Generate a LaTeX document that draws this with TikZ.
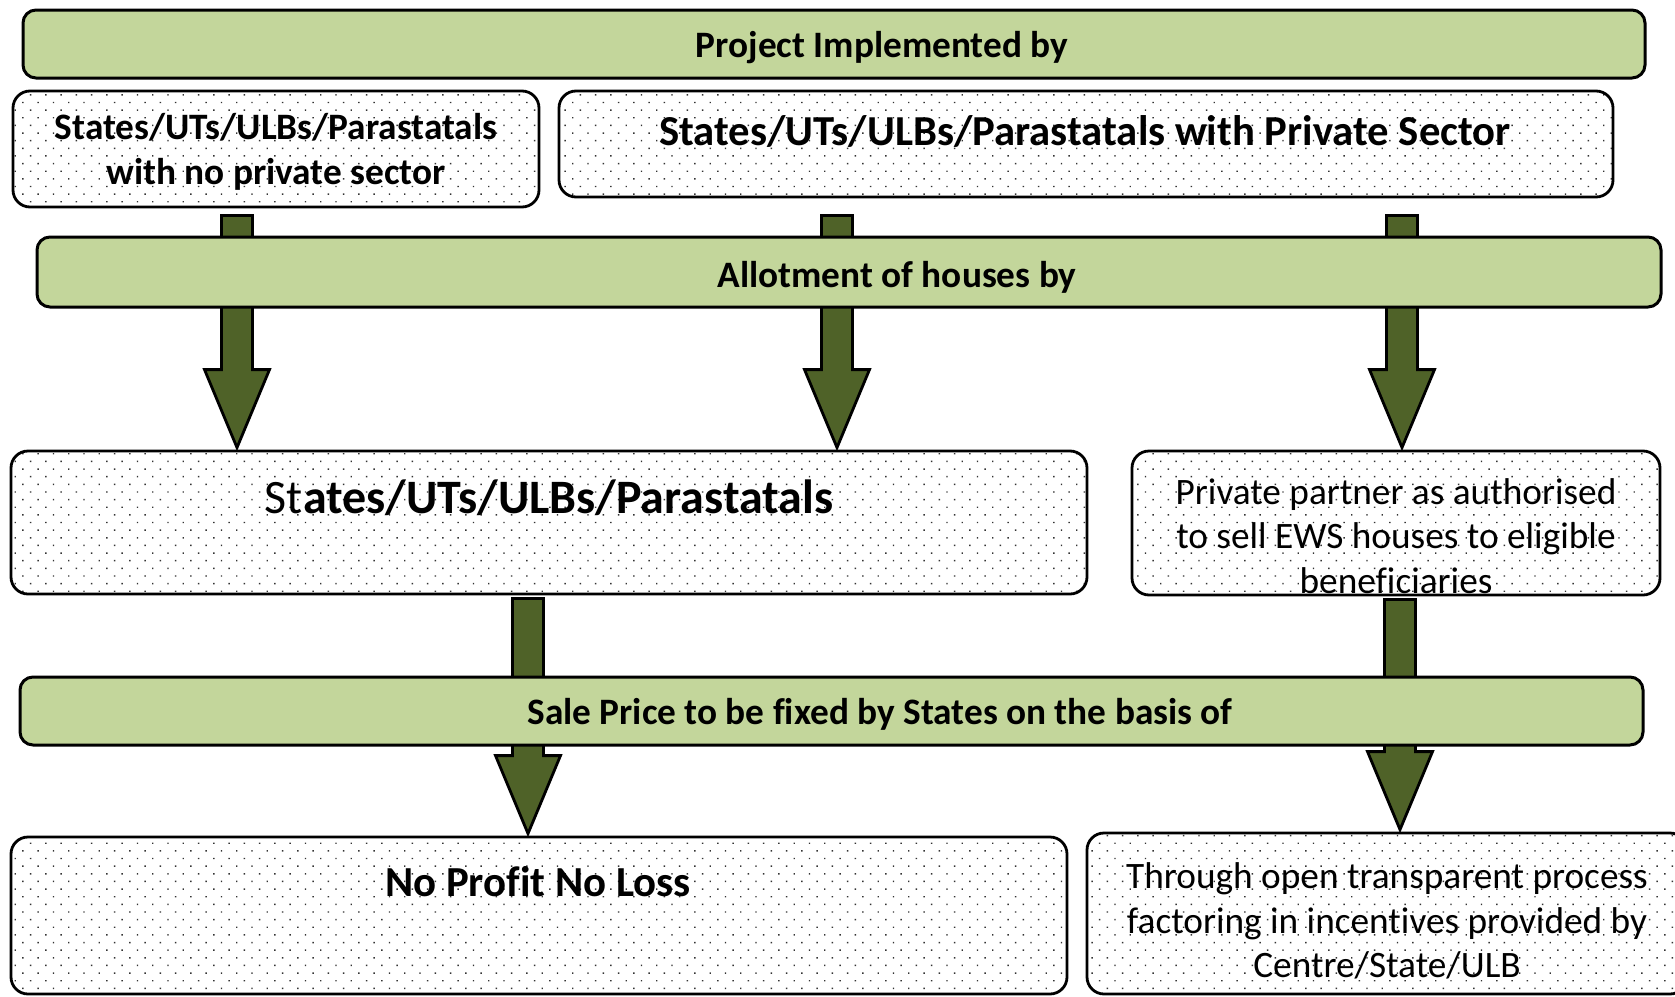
\documentclass[tikz,border=0pt]{standalone}
\usepackage{fontspec}
\setmainfont{Carlito}[Ligatures={NoCommon}]
\usetikzlibrary{patterns.meta,calc}
\definecolor{barfill}{HTML}{C3D69B}
\definecolor{arrowfill}{HTML}{4F6228}
\definecolor{dotgray}{HTML}{333333}
\newcommand\fsz[2]{\fontsize{#1}{#2}\selectfont}
% block arrow: #1 column x, #2 source node, #3 gap below source, #4 target node
\newcommand\blockarrow[4]{%
  \path[blockarrow] let \p1=(#1,0), \p2=(#2.south), \p3=(#4.north) in
    (\x1-15.5pt,\y2-#3pt) -- (\x1+15.5pt,\y2-#3pt) -- (\x1+15.5pt,\y3+80pt)
    -- (\x1+32.5pt,\y3+80pt) -- (\x1,\y3+2pt) -- (\x1-32.5pt,\y3+80pt)
    -- (\x1-15.5pt,\y3+80pt) -- cycle;}
\begin{document}
\begin{tikzpicture}[x=1pt,y=-1pt,
  bar/.style={draw=black, line width=3pt, fill=barfill, rounded corners=13pt, inner sep=0pt},
  dotbox/.style={draw=black, line width=2.8pt, rounded corners=17pt, inner sep=0pt,
    pattern={Dots[radius=1pt,distance=10.8pt,angle=45]}, pattern color=dotgray},
  blockarrow/.style={draw=black, line width=2.8pt, fill=arrowfill, line join=miter},
  txt/.style={inner sep=0pt, align=center, font=\bfseries\fsz{37.3}{45}},
  plain/.style={inner sep=0pt, align=center, font=\fsz{37.3}{44.8}}]
\useasboundingbox (0,0) rectangle (1675,996);
\clip (0,0) rectangle (1675,996);

% dotted boxes
\node[dotbox, minimum width=526, minimum height=116] (A) at (276,149) {};
\node[dotbox, minimum width=1054, minimum height=106] (B) at (1086,144) {};
\node[dotbox, minimum width=1076, minimum height=143] (C) at (549,522.5) {};
\node[dotbox, minimum width=528, minimum height=144] (D) at (1396,523) {};
\node[dotbox, minimum width=1056, minimum height=157] (E) at (539,915.5) {};
\node[dotbox, minimum width=600, minimum height=161] (F) at (1387,913.5) {};

% block arrows
\blockarrow{237}{A}{7}{C}
\blockarrow{837}{B}{17}{C}
\blockarrow{1402}{B}{17}{D}
\blockarrow{528}{C}{3}{E}
\blockarrow{1400}{D}{3}{F}

% green bars
\node[bar, minimum width=1622, minimum height=68] (P) at (834,44) {};
\node[bar, minimum width=1624, minimum height=70] (L) at (849,272) {};
\node[bar, minimum width=1623, minimum height=68] (S) at (831.5,711) {};

% texts
\node[txt] (Pt) at (882,47.5) {Project Implemented by};
\node[txt] (Lt) at (897,277) {Allotment of houses by};
\node[txt] (St) at (880,714) {Sale Price to be fixed by States on the basis of};
\node[txt] (At) at (276,152) {States/UTs/ULBs/Parastatals\\with no private sector};
\node[txt, font=\bfseries\fsz{42.7}{51}] (Bt) at (1085,131) {States/UTs/ULBs/Parastatals with Private Sector};
\node[txt, font=\bfseries\fsz{48}{57}] (Ct) at (549,498) {{\mdseries St}ates/UTs/ULBs/Parastatals};
\node[plain] (Dt) at (1396,536) {Private partner as authorised\\to sell EWS houses to eligible\\beneficiaries};
\node[txt, font=\bfseries\fsz{42.8}{51}] (Et) at (538,882) {No Profit No Loss};
\node[plain] (Ft) at (1387,921) {Through open transparent process\\factoring in incentives provided by\\Centre/State/ULB};
\end{tikzpicture}
\end{document}
